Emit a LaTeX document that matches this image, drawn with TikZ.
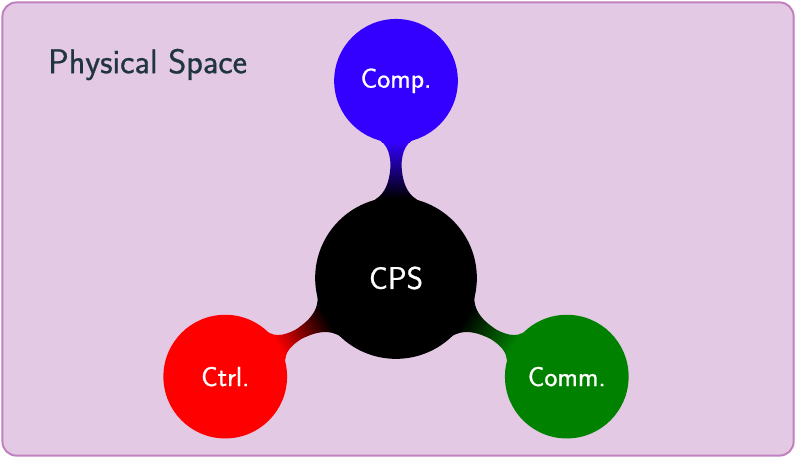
\documentclass[tikz,border=0pt]{standalone}
\usepackage{fontspec}
\newfontfamily\ssheavy{lmsans17-regular.otf}[FakeBold=0.8]
\usetikzlibrary{mindmap}
\definecolor{bgfill}{RGB}{228,201,228}
\definecolor{bgline}{RGB}{192,128,192}
\definecolor{txt}{RGB}{31,53,64}
\definecolor{compc}{RGB}{51,0,255}
\definecolor{ctrlc}{RGB}{255,0,0}
\definecolor{commc}{RGB}{0,130,0}
\tikzset{
  frame/.style={draw=bgline, fill=bgfill, line width=1.4pt, rounded corners=0.35cm},
  titletext/.style={anchor=base west, text=txt, font=\ssheavy\fontsize{24.4}{28}\selectfont},
}
\begin{document}
\begin{tikzpicture}
\useasboundingbox (0,0) rectangle (19.9,-11.45);
\draw[frame] (0.06,-0.06) rectangle (19.84,-11.39);
\node[titletext] (title) at (1.08,-1.83) {Physical Space};
\begin{scope}[mindmap, concept color=black, text=white,
  root concept/.append style={minimum size=4cm, text width=3.5cm, font=\ssheavy\fontsize{22.3}{26}\selectfont},
  level 1 concept/.append style={minimum size=3.05cm, text width=2.7cm, level distance=4.93cm, font=\ssheavy\fontsize{19.6}{22}\selectfont}]
\node[concept, root concept] (cps) at (9.9,-6.95) {CPS}
  child[grow=90, concept color=compc] {node[concept] (comp) {Comp.}}
  child[grow=210, concept color=ctrlc] {node[concept] (ctrl) {Ctrl.}}
  child[grow=330, concept color=commc] {node[concept] (comm) {Comm.}};
\end{scope}
\end{tikzpicture}
\end{document}
